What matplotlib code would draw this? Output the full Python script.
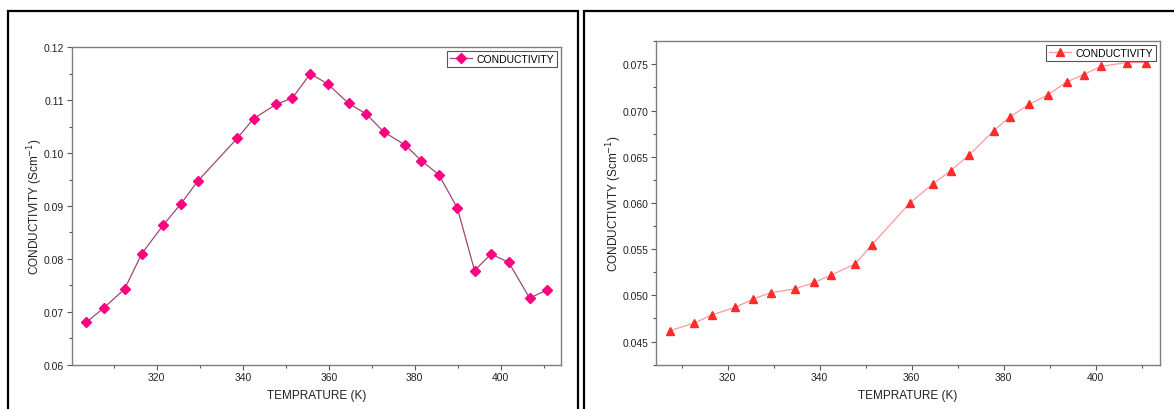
import numpy as np
from matplotlib import pyplot as plt
from matplotlib.patches import Rectangle
from matplotlib.ticker import MultipleLocator

plt.rcParams['font.family'] = ['Liberation Sans', 'DejaVu Sans']

# Left panel: conductivity vs temperature (peak near 355 K)
temp_left = [303.6, 307.6, 312.5, 316.5, 321.5, 325.6, 329.5, 338.7, 342.5, 347.7,
             351.5, 355.7, 359.7, 364.6, 368.7, 372.8, 377.8, 381.5, 385.6, 389.9,
             393.9, 397.7, 401.8, 406.7, 410.7]
cond_left = [0.0680, 0.0707, 0.0743, 0.0810, 0.0864, 0.0904, 0.0947, 0.1028, 0.1065, 0.1092,
             0.1104, 0.1150, 0.1131, 0.1094, 0.1074, 0.1040, 0.1015, 0.0986, 0.0959, 0.0896,
             0.0778, 0.0809, 0.0794, 0.0726, 0.0741]

# Right panel: conductivity vs temperature (rising)
temp_right = [307.5, 312.7, 316.6, 321.6, 325.5, 329.4, 334.6, 338.8, 342.5, 347.7,
              351.4, 359.6, 364.7, 368.5, 372.5, 377.8, 381.3, 385.6, 389.6, 393.7,
              397.4, 401.2, 406.8, 410.9]
cond_right = [0.0462, 0.0470, 0.0479, 0.0487, 0.0496, 0.0503, 0.0507, 0.0514, 0.0522, 0.0534,
              0.0555, 0.0600, 0.0621, 0.0635, 0.0652, 0.0678, 0.0693, 0.0707, 0.0717, 0.0731,
              0.0739, 0.0748, 0.0752, 0.0752]

x_ticks = [320, 340, 360, 380, 400]
series_label = "CONDUCTIVITY"
x_label = "TEMPRATURE (K)"
y_label = "CONDUCTIVITY (Scm$^{-1}$)"

fig = plt.figure(figsize=(11.74, 4.10), dpi=100)

# outer black frames around each panel
fig.patches.append(Rectangle((8 / 1174, -0.1), 570 / 1174, 1.1 - 12 / 410,
                             transform=fig.transFigure, fill=False, edgecolor='black', linewidth=1.6))
fig.patches.append(Rectangle((584 / 1174, -0.1), 0.6, 1.1 - 12 / 410,
                             transform=fig.transFigure, fill=False, edgecolor='black', linewidth=1.6))

ax1 = fig.add_axes([71.7 / 1174, 1 - 365.7 / 410, (561 - 71.7) / 1174, (365.7 - 48.3) / 410])
ax2 = fig.add_axes([656 / 1174, 1 - 365.7 / 410, (1160 - 656) / 1174, (365.7 - 42.3) / 410])


def style_axes(ax, ymajor, yminor, yfmt, ylab_x):
    for s in ax.spines.values():
        s.set_color('#7f7f7f')
        s.set_linewidth(1.0)
    ax.set_xticks(x_ticks)
    ax.xaxis.set_minor_locator(MultipleLocator(10))
    ax.yaxis.set_major_locator(MultipleLocator(ymajor))
    ax.yaxis.set_minor_locator(MultipleLocator(yminor))
    ax.yaxis.set_major_formatter(plt.FormatStrFormatter(yfmt))
    ax.tick_params(which='major', direction='out', length=3.5, width=0.8, color='#555555',
                   labelsize=7.5, labelcolor='#222222', pad=2)
    ax.tick_params(which='minor', direction='out', length=2, width=0.8, color='#555555')
    ax.set_xlabel(x_label, fontsize=8.5, color='#222222', labelpad=5)
    ax.set_ylabel(y_label, fontsize=8.5, color='#222222')
    ax.yaxis.set_label_coords(ylab_x, 0.5)
    leg = ax.legend(loc='upper right', fontsize=7.5, handlelength=2.2, borderpad=0.25,
                    handletextpad=0.4, borderaxespad=0.4, fancybox=False, framealpha=1)
    leg.get_frame().set_edgecolor('#555555')
    leg.get_frame().set_linewidth(0.8)


ax1.plot(temp_left, cond_left, color='#9b4a72', linewidth=0.9, marker='D', markersize=5,
         markerfacecolor='#ff0080', markeredgecolor='#ff0080', label=series_label)
ax1.set_xlim(300.2, 414)
ax1.set_ylim(0.06, 0.12)
style_axes(ax1, 0.01, 0.005, '%.2f', -0.054)

ax2.plot(temp_right, cond_right, color='#ff9a9a', linewidth=0.9, marker='^', markersize=6,
         markerfacecolor='#ff2a2a', markeredgecolor='#ff2a2a', label=series_label)
ax2.set_xlim(304.4, 414)
ax2.set_ylim(0.0425, 0.0775)
style_axes(ax2, 0.005, 0.0025, '%.3f', -0.064)

fig.savefig('out.png', dpi=100)
